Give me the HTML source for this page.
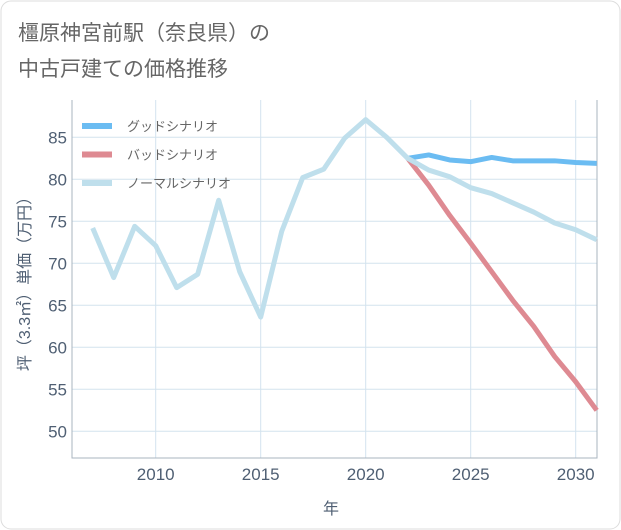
<!DOCTYPE html>
<html><head><meta charset="utf-8"><style>
body{margin:0;background:#fff;}
svg{display:block;font-family:"Liberation Sans","Noto Sans CJK JP",sans-serif;}
</style></head><body>
<svg id="c" width="621" height="530">
<rect x="1" y="1" width="619" height="528" rx="10" fill="#fff" stroke="#ddd"/>
<text x="18" y="40" font-size="21" fill="#666">橿原神宮前駅（奈良県）の</text>
<text x="18" y="76" font-size="21" fill="#666">中古戸建ての価格推移</text>
<g id="grid"></g>
<g id="series"></g>
<g id="legend"></g>
<text x="331" y="514" font-size="16" fill="#4f5f73" text-anchor="middle">年</text>
<text transform="translate(30,280) rotate(-90)" font-size="16" fill="#4f5f73" text-anchor="middle">坪（3.3㎡）単価（万円）</text>
</svg>
<script>
const years=[2007,2008,2009,2010,2011,2012,2013,2014,2015,2016,2017,2018,2019,2020,2021,2022,2023,2024,2025,2026,2027,2028,2029,2030,2031];
const normal=[74.2,68.3,74.4,72.1,67.1,68.7,77.5,69,63.6,73.8,80.2,81.2,84.9,87.1,85,82.5,81.1,80.3,79,78.3,77.2,76.1,74.8,74,72.8];
const futYears=[2022,2023,2024,2025,2026,2027,2028,2029,2030,2031];
const good=[82.5,82.9,82.3,82.1,82.6,82.2,82.2,82.2,82.0,81.9];
const bad=[82.5,79.3,75.7,72.4,69,65.6,62.5,58.9,55.9,52.5];
const yTicks=[50,55,60,65,70,75,80,85];
const xTicks=[2010,2015,2020,2025,2030];
const X0=72,X1=597,Y0=100,Y1=458;
const sx=v=>365.7+(v-2020)*21;
const sy=v=>179.3-(v-80)*8.4;
const NS="http://www.w3.org/2000/svg";
function mk(t,a,p){const e=document.createElementNS(NS,t);for(const k in a)e.setAttribute(k,a[k]);p.appendChild(e);return e;}
const g=document.getElementById('grid');
yTicks.forEach(v=>{const l=mk('line',{x1:X0,x2:X1,y1:sy(v),y2:sy(v),stroke:'#d3e3ee','stroke-width':1},g);


const t=mk('text',{x:X0-5,y:sy(v)+6,'font-size':17,fill:'#4f5f73','text-anchor':'end'},g);t.textContent=v;

});
xTicks.forEach(v=>{const l=mk('line',{x1:sx(v),x2:sx(v),y1:Y0,y2:Y1,stroke:'#d3e3ee','stroke-width':1},g);


const t=mk('text',{x:sx(v),y:Y1+22,'font-size':17,fill:'#4f5f73','text-anchor':'middle'},g);t.textContent=v;

});
const ax=mk('path',{d:`M${X0},${Y0}V${Y1}H${X1}V${Y0}`,fill:'none',stroke:'#aab4bf','stroke-width':1},g);


const s=document.getElementById('series');
function line(xs,ys,c,name){const p=mk('polyline',{points:xs.map((x,i)=>sx(x)+','+sy(ys[i])).join(' '),fill:'none',stroke:c,'stroke-width':5,'stroke-linejoin':'round'},s);

}
line(futYears,good,'#6bbcf2','good-scenario-line');
line(futYears,bad,'#de8a92','bad-scenario-line');
line(years,normal,'#bfdfec','normal-scenario-line');
const lg=document.getElementById('legend');
[['グッドシナリオ','#6bbcf2'],['バッドシナリオ','#de8a92'],['ノーマルシナリオ','#bfdfec']].forEach((d,i)=>{
const y=126+i*28.5;
const r=mk('rect',{x:82,y:y-3,width:30,height:6,fill:d[1]},lg);


const t=mk('text',{x:127,y:y+5,'font-size':13,fill:'#666'},lg);t.textContent=d[0];

});
</script>
</body></html>
